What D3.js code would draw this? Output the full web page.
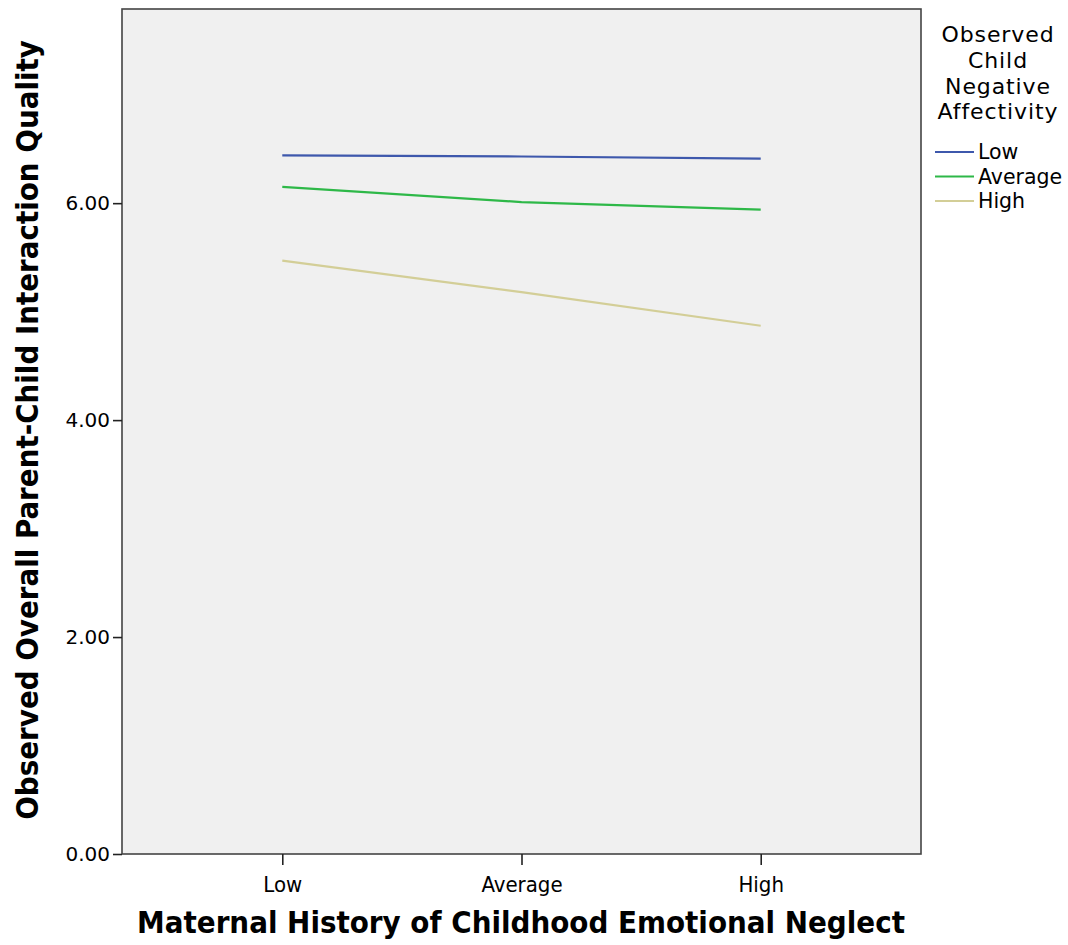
<!DOCTYPE html>
<html>
<head>
<meta charset="utf-8">
<script src="https://cdn.jsdelivr.net/npm/d3@7"></script>
<style>
  html, body { margin: 0; padding: 0; background: #ffffff; }
  svg { display: block; }
  text { font-family: "DejaVu Sans", Verdana, sans-serif; fill: #000; }
</style>
</head>
<body>
<svg id="chart" width="1068" height="945"></svg>
<script>
// Maternal neglect levels (x axis) and child negative affectivity groups (lines)
const neglectLevels = ["Low", "Average", "High"];
const affectivityGroups = ["Low", "Average", "High"];
const qualityLow = [6.44, 6.43, 6.41];
const qualityAverage = [6.15, 6.01, 5.94];
const qualityHigh = [5.47, 5.18, 4.87];
const yTicks = [0, 2, 4, 6];
const groupColors = ["#3e58ac", "#2eb848", "#d3ce97"];

const seriesValues = [qualityLow, qualityAverage, qualityHigh];

const svg = d3.select("#chart");
const plot = { left: 122, top: 9, right: 921, bottom: 854 };

const x = d3.scalePoint()
  .domain(neglectLevels)
  .range([plot.left, plot.right])
  .padding(0.67);

const y = d3.scaleLinear()
  .domain([0, 7.79])
  .range([plot.bottom, plot.top]);

// plot background
svg.append("rect")
  .attr("x", plot.left).attr("y", plot.top)
  .attr("width", plot.right - plot.left)
  .attr("height", plot.bottom - plot.top)
  .attr("fill", "#f0f0f0");

// series lines
const line = d3.line()
  .x((d, i) => x(neglectLevels[i]))
  .y(d => y(d));

svg.append("g")
  .selectAll("path")
  .data(seriesValues)
  .join("path")
  .attr("d", d => line(d))
  .attr("fill", "none")
  .attr("stroke", (d, i) => groupColors[i])
  .attr("stroke-width", 2.2);

// frame
svg.append("rect")
  .attr("x", plot.left).attr("y", plot.top)
  .attr("width", plot.right - plot.left)
  .attr("height", plot.bottom - plot.top)
  .attr("fill", "none")
  .attr("stroke", "#444")
  .attr("stroke-width", 1.6);

// y axis
const yAxis = svg.append("g")
  .attr("transform", `translate(${plot.left},0)`)
  .call(d3.axisLeft(y).tickValues(yTicks).tickFormat(d3.format(".2f")).tickSize(9).tickPadding(3));
yAxis.select(".domain").remove();
yAxis.selectAll(".tick line").attr("stroke", "#222").attr("stroke-width", 1.6);
yAxis.selectAll(".tick text")
  .style("font-family", "'DejaVu Sans', sans-serif")
  .style("font-size", "20px")
  .attr("fill", "#000");

// x axis
const xAxis = svg.append("g")
  .attr("transform", `translate(0,${plot.bottom})`)
  .call(d3.axisBottom(x).tickSize(11).tickPadding(11));
xAxis.select(".domain").remove();
xAxis.selectAll(".tick line").attr("stroke", "#222").attr("stroke-width", 1.6);
xAxis.selectAll(".tick text")
  .style("font-family", "'DejaVu Sans Condensed', 'DejaVu Sans', sans-serif")
  .style("font-size", "22px")
  .attr("fill", "#000");

// fit a text element to a target width by adjusting its font size
function fitWidth(sel, target) {
  const node = sel.node();
  const fs = parseFloat(sel.style("font-size"));
  const w = node.getComputedTextLength();
  sel.style("font-size", (fs * target / w) + "px");
}

// axis titles
const xTitle = svg.append("text")
  .attr("x", (137 + 905) / 2).attr("y", 933)
  .attr("text-anchor", "middle")
  .style("font-family", "'DejaVu Sans Condensed', 'DejaVu Sans', sans-serif")
  .style("font-weight", "bold")
  .style("font-size", "26px")
  .text("Maternal History of Childhood Emotional Neglect");
fitWidth(xTitle, 768);

const yTitle = svg.append("text")
  .attr("transform", `translate(38,${(40 + 820) / 2}) rotate(-90)`)
  .attr("text-anchor", "middle")
  .style("font-family", "'DejaVu Sans Condensed', 'DejaVu Sans', sans-serif")
  .style("font-weight", "bold")
  .style("font-size", "26px")
  .text("Observed Overall Parent-Child Interaction Quality");
fitWidth(yTitle, 780);

// legend
const legendTitle = ["Observed", "Child", "Negative", "Affectivity"];
const legend = svg.append("g");
legend.selectAll("text.title")
  .data(legendTitle)
  .join("text")
  .attr("class", "title")
  .attr("x", 998)
  .attr("y", (d, i) => 42 + i * 25.8)
  .attr("text-anchor", "middle")
  .style("font-size", "22px")
  .style("letter-spacing", "0.9px")
  .text(d => d);

const items = legend.selectAll("g.item")
  .data(affectivityGroups)
  .join("g")
  .attr("class", "item")
  .attr("transform", (d, i) => `translate(0,${152 + i * 24.5})`);
items.append("line")
  .attr("x1", 935).attr("x2", 974)
  .attr("y1", 0).attr("y2", 0)
  .attr("stroke", (d, i) => groupColors[i])
  .attr("stroke-width", 2.2);
items.append("text")
  .attr("x", 978).attr("y", 7)
  .style("font-size", "20.5px")
  .text(d => d);
</script>
</body>
</html>
